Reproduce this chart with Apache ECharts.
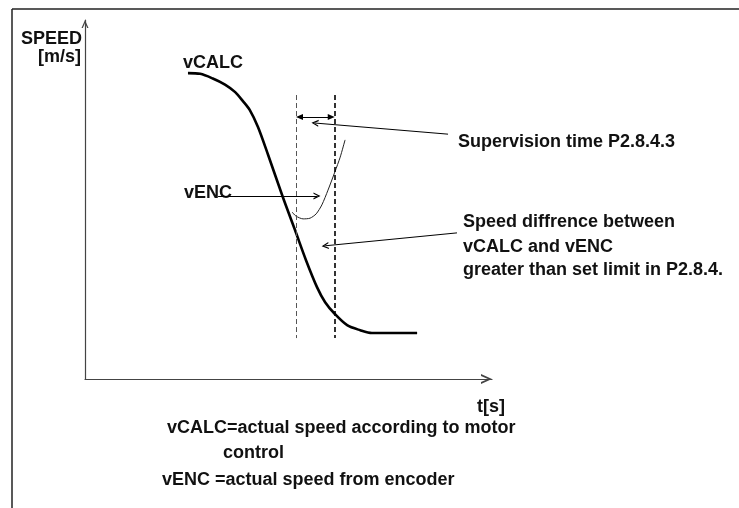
<!DOCTYPE html>
<html>
<head>
<meta charset="utf-8">
<script src="https://cdn.jsdelivr.net/npm/echarts@6/dist/echarts.min.js"></script>
<style>
  html, body { margin: 0; padding: 0; background: #fff; }
  #chart { width: 739px; height: 508px; }
</style>
</head>
<body>
<div id="chart"></div>
<script>
// Time axis and speed axis both run on a 0..100 relative scale.
const T_RANGE = [0, 100];
const V_RANGE = [0, 100];

// Calculated speed profile (vCALC): [t, v]
const vCalc = [
  [25.3, 85.2], [28.3, 85.0], [31.4, 83.7], [34.4, 82.0], [36.9, 79.9],
  [38.8, 77.4], [40.5, 74.9], [42.5, 70.2], [45.0, 62.4], [48.6, 50.7],
  [51.6, 41.5], [54.3, 33.1], [57.0, 25.6], [59.0, 21.4], [61.4, 18.1],
  [64.4, 15.0], [67.6, 13.6], [70.5, 12.8], [81.6, 12.8]
];

// Encoder speed (vENC) drifting away from vCALC: [t, v]
const vEnc = [
  [50.9, 46.5], [51.8, 45.4], [53.6, 44.6], [55.3, 44.8], [56.8, 46.0],
  [58.2, 48.5], [59.7, 52.6], [61.4, 57.7], [62.7, 61.8], [63.9, 66.6]
];

// Start and end of the supervision window (dashed guides)
const windowT = [51.8, 61.4];
const windowV = [11.4, 79.1];
// Height of the double arrow that marks the window length
const spanV = 73.0;

// Callout arrows: [from, to]
const calloutSupervision = [[89.2, 68.2], [56.5, 71.3]];
const calloutDifference = [[91.4, 40.7], [59.0, 37.1]];
const calloutEnc = [[32.7, 51.0], [57.0, 51.0]];

// Texts
const yTitle = ['SPEED', '[m/s]'];
const xTitle = 't[s]';
const curveNames = ['vCALC', 'vENC'];
const noteSupervision = 'Supervision time P2.8.4.3';
const noteDifference = ['Speed diffrence between', 'vCALC and vENC', 'greater than set limit in P2.8.4.'];
const legendNotes = ['vCALC=actual speed according to motor', 'control', 'vENC =actual speed from encoder'];

// Open arrow head pointing up (rotated by the library along the line)
const OPEN_HEAD = 'path://M45,0 L90,100 L73,100 L45,37 L17,100 L0,100 Z';
const FONT = 'bold 18px "Liberation Sans", Arial, sans-serif';
const INK = '#111';

function txt(text, x, y, align) {
  return {
    type: 'text', x: x, y: y, silent: true,
    style: { text: text, font: FONT, fill: INK, align: align || 'left', verticalAlign: 'middle' }
  };
}

function callout(pair) {
  return [
    { coord: pair[0], symbol: 'none' },
    { coord: pair[1], symbol: OPEN_HEAD, symbolSize: [7, 7] }
  ];
}

const chart = echarts.init(document.getElementById('chart'), null, { renderer: 'canvas' });

chart.setOption({
  animation: false,
  backgroundColor: '#fff',
  grid: { left: 85, right: 247, top: 20, bottom: 129, containLabel: false },
  xAxis: {
    type: 'value', min: T_RANGE[0], max: T_RANGE[1],
    axisLine: {
      show: true, symbol: ['none', OPEN_HEAD], symbolSize: [10, 11], symbolOffset: [0, -5.5],
      lineStyle: { color: '#444', width: 1.2 }
    },
    axisTick: { show: false }, axisLabel: { show: false }, splitLine: { show: false }
  },
  yAxis: {
    type: 'value', min: V_RANGE[0], max: V_RANGE[1],
    axisLine: {
      show: true, symbol: ['none', OPEN_HEAD], symbolSize: [7, 8], symbolOffset: [0, -4],
      lineStyle: { color: '#444', width: 1.2 }
    },
    axisTick: { show: false }, axisLabel: { show: false }, splitLine: { show: false }
  },
  series: [
    {
      name: 'vCALC', type: 'line', data: vCalc, smooth: 0.3,
      showSymbol: false, clip: false,
      lineStyle: { color: '#000', width: 2.6 }
    },
    {
      name: 'vENC', type: 'line', data: vEnc, smooth: 0.25,
      showSymbol: false, clip: false,
      lineStyle: { color: '#222', width: 1 }
    },
    {
      name: 'window', type: 'line', data: [], silent: true,
      markLine: {
        silent: true, symbol: 'none', label: { show: false }, animation: false,
        data: [
          [
            { coord: [windowT[0], windowV[1]], lineStyle: { color: '#555', width: 1, type: [5, 3] } },
            { coord: [windowT[0], windowV[0]] }
          ],
          [
            { coord: [windowT[1], windowV[1]], lineStyle: { color: '#000', width: 1.6, type: [5, 3] } },
            { coord: [windowT[1], windowV[0]] }
          ],
          [
            { coord: [windowT[0] + 0.9, spanV], symbol: 'triangle', symbolSize: [6, 7],
              lineStyle: { color: '#000', width: 1.2, type: 'solid' } },
            { coord: [windowT[1] - 0.9, spanV], symbol: 'triangle', symbolSize: [6, 7] }
          ]
        ]
      }
    },
    {
      name: 'callouts', type: 'line', data: [], silent: true,
      markLine: {
        silent: true, label: { show: false }, animation: false,
        lineStyle: { color: '#000', width: 1, type: 'solid' },
        data: [callout(calloutSupervision), callout(calloutDifference), callout(calloutEnc)]
      }
    }
  ],
  graphic: [
    // frame edges
    { type: 'line', silent: true, shape: { x1: 12, y1: 9, x2: 739, y2: 9 }, style: { stroke: '#222', lineWidth: 1.5 } },
    { type: 'line', silent: true, shape: { x1: 12, y1: 9, x2: 12, y2: 508 }, style: { stroke: '#222', lineWidth: 1.5 } },
    txt(yTitle[0], 21, 39),
    txt(yTitle[1], 81, 57, 'right'),
    txt(curveNames[0], 183, 63),
    txt(curveNames[1], 184, 193),
    txt(noteSupervision, 458, 142),
    txt(noteDifference[0], 463, 222),
    txt(noteDifference[1], 463, 247),
    txt(noteDifference[2], 463, 270),
    txt(xTitle, 477, 407),
    txt(legendNotes[0], 167, 428),
    txt(legendNotes[1], 223, 453),
    txt(legendNotes[2], 162, 480)
  ]
});
</script>
</body>
</html>
